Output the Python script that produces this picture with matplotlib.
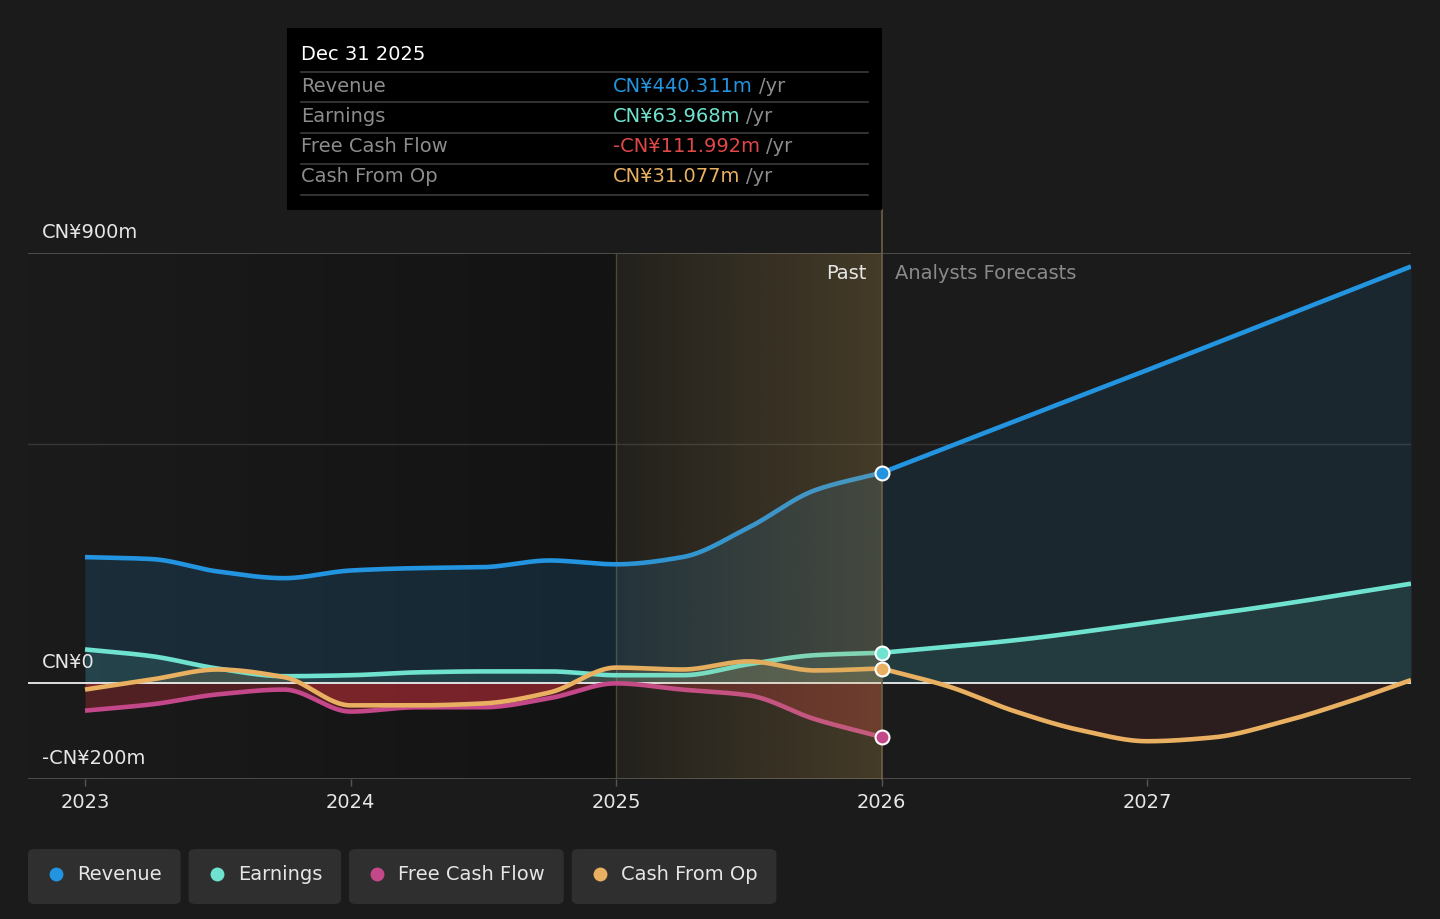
import numpy as np
import matplotlib.pyplot as plt
from matplotlib.patches import FancyBboxPatch, Rectangle
from matplotlib.lines import Line2D

# Values (CN¥ m)
past_x = [2023.0, 2023.25, 2023.5, 2023.75, 2024.0, 2024.25, 2024.5,
          2024.75, 2025.0, 2025.25, 2025.5, 2025.75, 2026.0]
revenue_past = [264, 260, 234, 220, 236, 241, 243, 257, 249, 264, 326, 404, 440.311]
earnings_past = [71, 57, 31, 15, 17, 23, 25, 25, 17, 17, 40, 59, 63.968]
fcf_past = [-57, -44, -23, -13, -59, -50, -50, -31, 0, -13, -25, -75, -111.992]
cfo_past = [-13, 8, 29, 13, -46, -46, -42, -19, 33, 29, 46, 27, 31.077]

fc_x = [2026.0, 2026.5, 2027.0, 2027.5, 2028.0]
revenue_fc = [440.311, 548, 655, 764, 873]
earnings_fc = [63.968, 90, 126, 165, 209]
cfo_fc_x = [2026.0, 2026.25, 2026.5, 2026.75, 2027.0, 2027.25, 2027.5, 2027.75, 2028.0]
cfo_fc = [31.077, -6, -58, -98, -121, -113, -82, -40, 8]

year_ticks = [2023, 2024, 2025, 2026, 2027]
y_labels = {900: 'CN¥900m', 0: 'CN¥0', -200: '-CN¥200m'}
series_names = ['Revenue', 'Earnings', 'Free Cash Flow', 'Cash From Op']
tooltip_values = ['CN¥440.311m', 'CN¥63.968m', '-CN¥111.992m', 'CN¥31.077m']

C_REV = '#2394df'
C_EARN = '#6fe3cf'
C_FCF = '#c4478a'
C_CFO = '#e8b060'
C_RED = '#c8303a'
BG = '#1b1b1b'
FS = 14


def pchip(x, y, xs):
    # monotone cubic, only used to draw smooth curves through the read points
    x = np.asarray(x, float)
    y = np.asarray(y, float)
    h = np.diff(x)
    d = np.diff(y) / h
    n = len(x)
    m = np.zeros(n)
    for k in range(1, n - 1):
        if d[k - 1] * d[k] > 0:
            w1 = 2 * h[k] + h[k - 1]
            w2 = h[k] + 2 * h[k - 1]
            m[k] = (w1 + w2) / (w1 / d[k - 1] + w2 / d[k])
    m[0] = d[0]
    m[-1] = d[-1]
    idx = np.clip(np.searchsorted(x, xs) - 1, 0, n - 2)
    t = (xs - x[idx]) / h[idx]
    h00 = 2 * t**3 - 3 * t**2 + 1
    h10 = t**3 - 2 * t**2 + t
    h01 = -2 * t**3 + 3 * t**2
    h11 = t**3 - t**2
    return h00 * y[idx] + h10 * h[idx] * m[idx] + h01 * y[idx + 1] + h11 * h[idx] * m[idx + 1]


W, H = 1440, 919
fig = plt.figure(figsize=(W / 100, H / 100), dpi=100)
fig.patch.set_facecolor(BG)
plt.rcParams['font.family'] = ['DejaVu Sans']

ax = fig.add_axes([28 / W, 1 - 779 / H, (1411 - 28) / W, (779 - 253) / H])
ax.set_facecolor(BG)
x0 = 2023 - (85 - 28) / 265.5
x1 = 2023 + (1411 - 85) / 265.5
ax.set_xlim(x0, x1)
ax.set_ylim(-200, 900)
for s in ax.spines.values():
    s.set_visible(False)

# darker gradient on the left part of the plot
g = np.linspace(0, 1, 256)
c_a = np.array([27, 27, 27]) / 255
c_b = np.array([19, 19, 19]) / 255
left_cols = (c_a[None, :] * (1 - g[:, None]) + c_b[None, :] * g[:, None])[None, :, :]
ax.imshow(left_cols, extent=[x0, 2025, -200, 900], aspect='auto', zorder=0)

# past-period golden overlay (drawn above lines so they look tinted)
gold = np.zeros((1, 256, 4))
gold[0, :, :3] = np.array([200, 160, 80]) / 255
gold[0, :, 3] = np.linspace(0.05, 0.24, 256)
ax.imshow(gold, extent=[2025, 2026, -200, 900], aspect='auto', zorder=6)

# grid
ax.axhline(900, color='#555555', lw=1.2, zorder=1)
ax.axhline(500, color='#363636', lw=1.0, zorder=1)
ax.axhline(-200, color='#555555', lw=1.2, zorder=1)
ax.axvline(2025, color='#4a4436', lw=1.0, zorder=1)
ax.axvline(2026, ymin=0, ymax=(779 - 210) / 526, color='#6e6048', lw=1.2,
           zorder=7, clip_on=False)

xp = np.linspace(past_x[0], past_x[-1], 600)
xf = np.linspace(fc_x[0], x1, 400)

rev_p = pchip(past_x, revenue_past, xp)
rev_f = pchip(fc_x, revenue_fc, xf)
earn_p = pchip(past_x, earnings_past, xp)
earn_f = pchip(fc_x, earnings_fc, xf)
fcf_p = pchip(past_x, fcf_past, xp)
cfo_p = pchip(past_x, cfo_past, xp)
cfo_f = pchip(cfo_fc_x, cfo_fc, xf)

# fills
ax.fill_between(xp, 0, rev_p, color=C_REV, alpha=0.16, lw=0, zorder=2)
ax.fill_between(xf, 0, rev_f, color=C_REV, alpha=0.10, lw=0, zorder=2)
ax.fill_between(xp, 0, earn_p, color=C_EARN, alpha=0.12, lw=0, zorder=2)
ax.fill_between(xf, 0, earn_f, color=C_EARN, alpha=0.10, lw=0, zorder=2)
ax.fill_between(xp, 0, np.minimum(fcf_p, 0), color=C_RED, alpha=0.32, lw=0, zorder=2)
ax.fill_between(xp, 0, np.minimum(cfo_p, 0), color=C_RED, alpha=0.35, lw=0, zorder=2)
ax.fill_between(xp, 0, np.maximum(cfo_p, 0), color=C_CFO, alpha=0.15, lw=0, zorder=2)
ax.fill_between(xf, 0, np.minimum(cfo_f, 0), color=C_RED, alpha=0.10, lw=0, zorder=2)

ax.axhline(0, color='#eeeeee', lw=1.3, zorder=4)

# lines
lw = 3.3
for xs, ys, col in [(xp, rev_p, C_REV), (xf, rev_f, C_REV),
                    (xp, earn_p, C_EARN), (xf, earn_f, C_EARN),
                    (xp, fcf_p, C_FCF), (xp, cfo_p, C_CFO), (xf, cfo_f, C_CFO)]:
    ax.plot(xs, ys, color=col, lw=lw, zorder=5, solid_capstyle='butt')

# markers at the last reported point
for val, col in [(revenue_past[-1], C_REV), (earnings_past[-1], C_EARN),
                 (fcf_past[-1], C_FCF), (cfo_past[-1], C_CFO)]:
    ax.plot([past_x[-1]], [val], 'o', ms=10, color=col, mec='white', mew=1.5,
            zorder=8, clip_on=False)

# axes text
ax.set_yticks([])
ax.set_xticks(year_ticks)
ax.set_xticklabels([str(y) for y in year_ticks])
ax.tick_params(axis='x', colors='#555555', length=5, width=1, labelcolor='#e6e6e6',
               labelsize=FS, pad=5)
for v, lab in y_labels.items():
    ax.annotate(lab, xy=(14 / 1383, v), xycoords=ax.get_yaxis_transform(),
                xytext=(0, 15), textcoords='offset points', color='#e6e6e6',
                fontsize=FS, va='center', ha='left', zorder=9)

ax.annotate('Past', xy=(2026, 900), xytext=(-11, -15), textcoords='offset points',
            color='#e6e6e6', fontsize=FS, ha='right', va='center', zorder=9)
ax.annotate('Analysts Forecasts', xy=(2026, 900), xytext=(10, -15),
            textcoords='offset points', color='#8a8a8a', fontsize=FS,
            ha='left', va='center', zorder=9)


def fx(px):
    return px / W


def fy(py):
    return 1 - py / H


# tooltip box
fig.add_artist(Rectangle((fx(287), fy(210)), fx(882) - fx(287), fy(28) - fy(210),
                         transform=fig.transFigure, facecolor='black', edgecolor='none',
                         zorder=10))
fig.text(fx(301), fy(55), 'Dec 31 2025', color='white', fontsize=FS, va='center', zorder=11)
for py in [72, 102, 133, 164, 195]:
    fig.add_artist(Line2D([fx(301), fx(868)], [fy(py), fy(py)], color='#3c3c3c',
                          lw=1.2, transform=fig.transFigure, zorder=11))
renderer = fig.canvas.get_renderer()
val_cols = [C_REV, C_EARN, '#e04848', C_CFO]
for i, (name, val, col) in enumerate(zip(series_names, tooltip_values, val_cols)):
    py = [86, 116, 147, 177][i]
    fig.text(fx(301), fy(py), name, color='#8c8c8c', fontsize=FS, va='center', zorder=11)
    t = fig.text(fx(613), fy(py), val, color=col, fontsize=FS, va='center', zorder=11)
    bb = t.get_window_extent(renderer)
    fig.text(bb.x1 / W + fx(6), fy(py), '/yr', color='#8c8c8c', fontsize=FS,
             va='center', zorder=11)

# legend chips
leg_cols = [C_REV, C_EARN, C_FCF, C_CFO]
left = 28
for name, col in zip(series_names, leg_cols):
    t = fig.text(fx(left + 49), fy(874), name, color='#e6e6e6', fontsize=FS,
                 va='center', ha='left', zorder=11)
    tw = t.get_window_extent(renderer).width
    w = 49 + tw + 19
    fig.add_artist(FancyBboxPatch((fx(left), fy(904)), fx(w), fy(849) - fy(904),
                                  boxstyle='round,pad=0,rounding_size=0.005',
                                  transform=fig.transFigure, facecolor='#2f2f2f',
                                  edgecolor='none', zorder=10))
    fig.add_artist(Line2D([fx(left + 28)], [fy(874)], marker='o', ms=10, color=col,
                          mew=0, transform=fig.transFigure, zorder=11))
    left += w + 8

fig.savefig('out.png', dpi=100, facecolor=BG)
